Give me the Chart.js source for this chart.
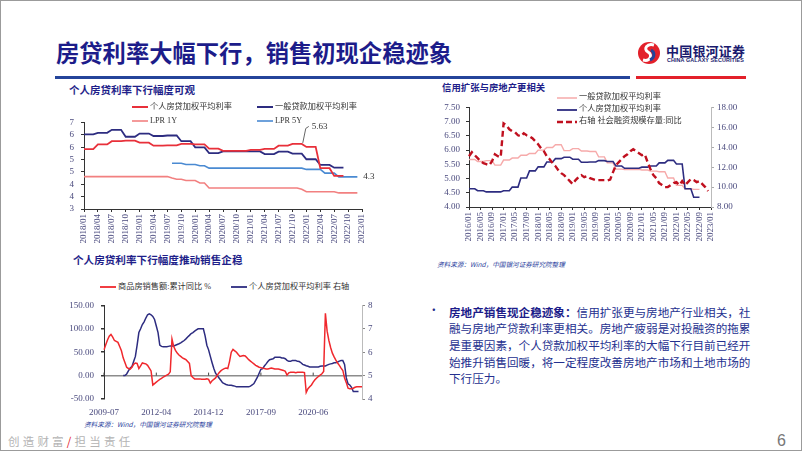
<!DOCTYPE html>
<html>
<head>
<meta charset="utf-8">
<script src="https://cdn.jsdelivr.net/npm/chart.js@4.4.0/dist/chart.umd.min.js"></script>
<style>
  body { margin: 0; background: #fff; }
  #slide { position: relative; width: 802px; height: 451px; overflow: hidden; background: #fff;
           font-family: "Noto Sans CJK SC", sans-serif; }
  #frame { position: absolute; left: 0; top: 0; width: 802px; height: 451px; box-sizing: border-box;
           border: 1px solid #9b9b9b; pointer-events: none; }
  .abs { position: absolute; white-space: nowrap; line-height: 1; }
  canvas { position: absolute; }
  .legend { display: flex; align-items: center; font-family: "Liberation Serif", "Noto Sans CJK SC", serif;
            font-size: 8.2px; color: #333; }
  .legend svg { margin-right: 2px; }
  .ctitle { font-weight: 700; color: #1f1f8a; }
  .src { font-style: italic; color: #2b3f9e; font-size: 6.6px; }
</style>
</head>
<body>
<div id="slide">
  <div class="abs" style="left:56px;top:41px;font-size:23.3px;font-weight:700;color:#1c1c8a;">房贷利率大幅下行，销售初现企稳迹象</div>
  <div class="abs" style="left:55px;top:76px;width:575px;height:3px;background:#24449a;"></div>
  <div class="abs" style="left:636px;top:76px;width:110px;height:3px;background:#e3202a;"></div>

  <svg class="abs" style="left:637px;top:41px;" width="24" height="24" viewBox="0 0 24 24">
    <circle cx="12" cy="12" r="11" fill="#e3202a"/>
    <path d="M17 4 C10 2 6 8 11 11 C16 14 13 21 6 19" stroke="#fff" stroke-width="3" fill="none"/>
    <path d="M14 9 C18 11 18 17 13 19" stroke="#24449a" stroke-width="3" fill="none"/>
  </svg>
  <div class="abs" style="left:666px;top:44px;font-size:13px;font-weight:700;color:#1a1a6e;letter-spacing:0.2px;">中国银河证券</div>
  <div class="abs" style="left:667px;top:58px;font-size:5.4px;font-weight:700;color:#1a1a6e;font-family:'Liberation Sans',sans-serif;letter-spacing:0.1px;">CHINA GALAXY SECURITIES</div>

  <div class="abs ctitle" style="left:69px;top:84.5px;font-size:10.5px;">个人房贷利率下行幅度可观</div>
  <div class="abs ctitle" style="left:442px;top:82.5px;font-size:9.4px;">信用扩张与房地产更相关</div>
  <div class="abs ctitle" style="left:73px;top:254.5px;font-size:10.6px;">个人房贷利率下行幅度推动销售企稳</div>

  <canvas id="c1" width="345" height="142" style="left:40px;top:110px;"></canvas>
  <canvas id="c2" width="340" height="157" style="left:420px;top:96px;"></canvas>
  <canvas id="c3" width="340" height="124" style="left:45px;top:293px;"></canvas>
  <div id="legends"></div>

  <div class="abs src" style="left:437px;top:261px;">资料来源：Wind，中国银河证券研究院整理</div>
  <div class="abs src" style="left:84px;top:421px;">资料来源：Wind，中国银河证券研究院整理</div>

  <div class="abs" style="left:428px;top:304px;font-size:11.6px;color:#1f2a8a;">•</div>
  <div class="abs" style="left:449px;top:303.5px;font-size:11.6px;line-height:16.7px;color:#24308f;">
    <b style="color:#1c1c8a;">房地产销售现企稳迹象：</b>信用扩张更与房地产行业相关，社<br>
    融与房地产贷款利率更相关。房地产疲弱是对投融资的拖累<br>
    是重要因素，个人贷款加权平均利率的大幅下行目前已经开<br>
    始推升销售回暖，将一定程度改善房地产市场和土地市场的<br>
    下行压力。
  </div>

  <div class="abs" style="left:8px;top:436px;font-size:11.5px;color:#b4b4b4;letter-spacing:3.2px;">创造财富<span style="color:#e3202a;">/</span>担当责任</div>
  <div class="abs" style="left:777px;top:433px;font-size:16px;color:#777;font-family:'Liberation Sans',sans-serif;">6</div>
  <div id="frame"></div>
</div>

<script>
// ---------- 图1：个人房贷利率下行幅度可观（月度，2018/01 - 2022/12）----------
// 季度数据（2018Q1 - 2022Q3）
const c1MortgageQ = [5.42, 5.61, 5.74, 5.76, 5.68, 5.56, 5.57, 5.63, 5.61, 5.44,
                     5.35, 5.35, 5.39, 5.43, 5.56, 5.63, 5.51, 4.65, 4.34];
const c1GeneralQ  = [6.02, 6.08, 6.20, 5.92, 6.05, 5.95, 5.97, 5.74, 5.49, 5.26,
                     5.33, 5.33, 5.33, 5.22, 5.32, 5.24, 5.01, 4.78, 4.67];
const c1Lpr1y = [
  4.31, 4.31, 4.31, 4.31, 4.31, 4.31, 4.31, 4.31, 4.31, 4.31, 4.31, 4.31, // 2018
  4.31, 4.31, 4.31, 4.31, 4.31, 4.31, 4.31, 4.25, 4.20, 4.20, 4.15, 4.15, // 2019
  4.15, 4.05, 4.05, 3.85, 3.85, 3.85, 3.85, 3.85, 3.85, 3.85, 3.85, 3.85, // 2020
  3.85, 3.85, 3.85, 3.85, 3.85, 3.85, 3.85, 3.85, 3.85, 3.85, 3.85, 3.80, // 2021
  3.70, 3.70, 3.70, 3.70, 3.70, 3.70, 3.70, 3.65, 3.65, 3.65, 3.65, 3.65  // 2022
];
const c1Lpr5y = [
  null, null, null, null, null, null, null, null, null, null, null, null,
  null, null, null, null, null, null, null, 4.85, 4.85, 4.85, 4.80, 4.80,
  4.80, 4.75, 4.75, 4.65, 4.65, 4.65, 4.65, 4.65, 4.65, 4.65, 4.65, 4.65,
  4.65, 4.65, 4.65, 4.65, 4.65, 4.65, 4.65, 4.65, 4.65, 4.65, 4.65, 4.65,
  4.60, 4.60, 4.60, 4.60, 4.45, 4.45, 4.45, 4.30, 4.30, 4.30, 4.30, 4.30
];

// ---------- 图2：信用扩张与房地产更相关（月度，2016/01 - 2022/12）----------
const c2GeneralQ  = [5.67, 5.60, 5.63, 5.47, 5.65, 5.72, 5.82, 5.88, 6.00, 6.09, 6.19, 5.98,
                     6.05, 5.97, 5.95, 5.76, 5.55, 5.33, 5.32, 5.32, 5.30, 5.26, 5.24, 5.02,
                     4.76, 4.64, 4.62];
const c2MortgageQ = [4.64, 4.57, 4.53, 4.53, 4.57, 4.70, 5.02, 5.27, 5.41, 5.58, 5.70, 5.75,
                     5.68, 5.57, 5.58, 5.63, 5.60, 5.44, 5.36, 5.36, 5.40, 5.44, 5.55, 5.64,
                     5.51, 4.64, 4.34];
const c2Tsf = [
  13.1, 13.5, 13.2, 12.9, 12.6, 12.4, 12.3, 12.2, 12.6, 13.3, 13.1, 13.0, // 2016
  16.4, 16.2, 15.8, 15.6, 15.5, 15.2, 15.1, 15.4, 15.2, 15.1, 14.9, 14.6, // 2017
  14.3, 13.9, 13.6, 13.1, 12.8, 12.4, 12.1, 11.7, 11.4, 11.2, 10.9, 10.6, // 2018
  10.3, 10.7, 11.0, 11.2, 11.0, 11.1, 10.9, 10.8, 10.7, 10.7, 10.7, 10.7, // 2019
  10.65, 10.75, 11.5, 12.2, 12.5, 12.8, 13.1, 13.3, 13.6, 13.8, 13.6, 13.4, // 2020
  13.2, 13.3, 12.5, 11.8, 11.2, 10.9, 10.4, 10.2, 10.0, 10.0, 10.2, 10.4, // 2021
  10.5, 10.2, 10.6, 10.2, 10.5, 10.8, 10.7, 10.5, 10.6, 10.3, 10.0, 9.6   // 2022
];

// ---------- 图3：销售额累计同比 vs 个人房贷利率（无1月，2009-07 - 2022-12）----------
const c3Sales = [
  55, 66, 76, 84, 88, 82,                                  // 2009 Jul-Dec
  75, 73, 71, 62, 53, 38, 28, 18, 15, 14, 18,              // 2010 Feb-Dec
  24, 27, 26, 15, 21, 27, 26, 25, 22, 16, 10,              // 2011
  -20, -17, -14, -11, -8, -6, -3, -1, 1, 3, 8,             // 2012
  78, 62, 54, 48, 44, 41, 38, 36, 34, 30, 26,              // 2013
  0, -4, -7, -7, -7, -7, -8, -8, -8, -7, -8,               // 2014
  -16, -11, -8, -5, 1, 6, 10, 13, 15, 16, 15,              // 2015
  30, 50, 56, 53, 50, 45, 41, 42, 43, 42, 38,              // 2016
  34, 31, 28, 25, 22, 20, 18, 17, 16, 15, 14,              // 2017
  14, 15, 16, 15, 14, 14, 14, 13, 12, 11, 9,               // 2018
  1, 6, 7, 7, 7, 6, 7, 7, 7, 7, 6.5,                       // 2019
  -36, -28, -24, -20, -14, -9, -5, -2, 1, 4, 9,            // 2020
  133, 95, 75, 60, 48, 40, 33, 27, 22, 16, 11,             // 2021
  -5, -15, -27, -28, -28, -27, -25, -24, -24, -24, -24     // 2022
];
const c3Mortgage = [
  null, null, null, null, null, null,
  null, null, null, null, null, 5.00, 5.00, 5.07, 5.20, 5.32, 5.38,
  5.60, 5.82, 6.30, 6.84, 7.00, 7.18, 7.30, 7.46, 7.60, 7.64, 7.60,
  7.53, 7.40, 7.12, 6.84, 6.30, 6.25, 6.23, 6.23, 6.23, 6.25, 6.27,
  6.27, 6.27, 6.30, 6.33, 6.36, 6.40, 6.45, 6.50, 6.57, 6.65, 6.72,
  6.80, 6.84, 6.90, 6.95, 7.00, 7.00, 7.00, 7.00, 6.70, 6.30, 6.10,
  5.82, 5.55, 5.30, 5.10, 5.00, 4.90, 4.80, 4.70, 4.66, 4.62, 4.60,
  4.59, 4.59, 4.57, 4.55, 4.52, 4.52, 4.52, 4.52, 4.52, 4.52, 4.52,
  4.52, 4.55, 4.60, 4.66, 4.80, 4.93, 5.10, 5.27, 5.30, 5.41, 5.50,
  5.60, 5.68, 5.70, 5.72, 5.78, 5.78, 5.78, 5.78, 5.75, 5.75, 5.72,
  5.65, 5.61, 5.61, 5.64, 5.64, 5.64, 5.61, 5.60, 5.55, 5.48, 5.45,
  5.42, 5.40, 5.37, 5.37, 5.37, 5.37, 5.37, 5.37, 5.40, 5.41, 5.41,
  5.41, 5.45, 5.48, 5.50, 5.52, 5.55, 5.55, 5.58, 5.62, 5.64, 5.64,
  5.48, 4.90, 4.64, 4.60, 4.50, 4.32, 4.32, 4.32, 4.32, null, null
];

// 季度值在当季三个月内保持不变
function perMonth(q) {
  const out = [];
  q.forEach(v => out.push(v, v, v));
  return out;
}

function monthLabels(y0, y1, lastMonth) {
  const arr = [];
  for (let y = y0; y <= y1; y++) {
    for (let m = 1; m <= 12; m++) {
      if (y === y1 && m > lastMonth) break;
      arr.push(y + '/' + String(m).padStart(2, '0'));
    }
  }
  return arr;
}

const c1Labels = monthLabels(2018, 2023, 1);
const c2Labels = monthLabels(2016, 2023, 1);
const c3Labels = [];
for (let y = 2009; y <= 2022; y++) {
  for (let m = (y === 2009 ? 7 : 2); m <= 12; m++) c3Labels.push(y + '-' + String(m).padStart(2, '0'));
}

// 颜色
const RED = '#e8303a', NAVY = '#2d2c80', SALMON = '#f28080', SKY = '#4a8ad2';
const PINK = '#f6aaaa', DRED = '#c0101f';
const TICK = '#4a4a7e';

Chart.defaults.animation = false;
Chart.defaults.font.family = '"Liberation Serif", serif';
Chart.defaults.font.size = 9;
Chart.defaults.color = TICK;

const noLegend = { legend: { display: false }, tooltip: { enabled: false } };

function xCat(every, height, rotate) {
  return {
    type: 'category',
    offset: false,
    afterBuildTicks: s => { s.ticks = s.ticks.filter(t => t.value % every === 0); },
    afterFit: s => { s.height = height; },
    ticks: { autoSkip: false, minRotation: rotate, maxRotation: rotate, padding: rotate ? 2 : 5 },
    grid: { display: !!rotate, drawOnChartArea: false, tickLength: 3, tickColor: '#333' },
    border: { display: !!rotate, color: '#333' }
  };
}

// ---------- 图1 ----------
const c1Notes = {
  id: 'c1Notes',
  afterDatasetsDraw(chart) {
    const ctx = chart.ctx;
    const peakIdx = 47; // 2021/12
    const peak = chart.getDatasetMeta(0).data[peakIdx];
    const last = chart.getDatasetMeta(3).data[c1Lpr5y.length - 1];
    ctx.save();
    ctx.strokeStyle = '#666';
    ctx.lineWidth = 1;
    ctx.beginPath();
    ctx.moveTo(peak.x + 1, peak.y - 1);
    ctx.lineTo(peak.x + 4, peak.y - 15.5);
    ctx.lineTo(peak.x + 7, peak.y - 17.5);
    ctx.stroke();
    ctx.fillStyle = '#333';
    ctx.font = '9px "Liberation Serif"';
    ctx.textBaseline = 'middle';
    ctx.fillText(perMonth(c1MortgageQ)[peakIdx].toFixed(2), peak.x + 10, peak.y - 17.5);
    ctx.fillText(String(c1Lpr5y[c1Lpr5y.length - 1]), last.x + 6, last.y);
    ctx.restore();
  }
};

new Chart(document.getElementById('c1'), {
  type: 'line',
  data: {
    labels: c1Labels,
    datasets: [
      { label: '个人房贷加权平均利率', data: perMonth(c1MortgageQ), borderColor: RED, borderWidth: 1.8 },
      { label: '一般贷款加权平均利率', data: perMonth(c1GeneralQ), borderColor: NAVY, borderWidth: 1.8 },
      { label: 'LPR 1Y', data: c1Lpr1y, borderColor: SALMON, borderWidth: 1.6 },
      { label: 'LPR 5Y', data: c1Lpr5y, borderColor: SKY, borderWidth: 1.6 }
    ]
  },
  options: {
    responsive: false,
    devicePixelRatio: 1,
    layout: { padding: { top: 9, right: 23 } },
    elements: { point: { radius: 0 }, line: { tension: 0 } },
    plugins: noLegend,
    scales: {
      x: xCat(3, 43, 90),
      y: {
        min: 3, max: 6.5,
        afterFit: s => { s.width = 44; },
        ticks: { stepSize: 0.5, padding: 7, autoSkip: false, callback: v => Math.round(v) },
        grid: { drawOnChartArea: false, tickLength: 3, tickColor: '#333' },
        border: { color: '#333' }
      }
    }
  },
  plugins: [c1Notes]
});

// ---------- 图2 ----------
new Chart(document.getElementById('c2'), {
  type: 'line',
  data: {
    labels: c2Labels,
    datasets: [
      { label: '右轴 社会融资规模存量:同比', data: c2Tsf, yAxisID: 'y1', borderColor: DRED,
        borderWidth: 2.4, borderDash: [6, 3.5] },
      { label: '个人房贷加权平均利率', data: perMonth(c2MortgageQ), borderColor: NAVY, borderWidth: 1.6 },
      { label: '一般贷款加权平均利率', data: perMonth(c2GeneralQ), borderColor: PINK, borderWidth: 1.4 }
    ]
  },
  options: {
    responsive: false,
    devicePixelRatio: 1,
    layout: { padding: { top: 7 } },
    elements: { point: { radius: 0 }, line: { tension: 0 } },
    plugins: noLegend,
    scales: {
      x: xCat(4, 46, 90),
      y: {
        min: 4, max: 7.5,
        afterFit: s => { s.width = 49; },
        ticks: { stepSize: 0.5, padding: 6, autoSkip: false, callback: v => v.toFixed(2) },
        grid: { drawOnChartArea: false, tickLength: 3, tickColor: '#333' },
        border: { color: '#333' }
      },
      y1: {
        position: 'right',
        min: 8, max: 18,
        afterFit: s => { s.width = 49; },
        ticks: { stepSize: 2, padding: 3, autoSkip: false, callback: v => v.toFixed(2) },
        grid: { drawOnChartArea: false, tickLength: 3, tickColor: '#aaa' },
        border: { color: '#bbb' }
      }
    }
  }
});

// ---------- 图3 ----------
const zeroTicks = {
  id: 'zeroTicks',
  afterDatasetsDraw(chart) {
    const { ctx, scales: { x, y } } = chart;
    const y0 = y.getPixelForValue(0);
    ctx.save();
    ctx.strokeStyle = '#444';
    ctx.lineWidth = 1;
    x.ticks.forEach((t, i) => {
      const px = x.getPixelForTick(i);
      ctx.beginPath();
      ctx.moveTo(px, y0);
      ctx.lineTo(px, y0 - 3);
      ctx.stroke();
    });
    ctx.restore();
  }
};

new Chart(document.getElementById('c3'), {
  type: 'line',
  data: {
    labels: c3Labels,
    datasets: [
      { label: '商品房销售额:累计同比 %', data: c3Sales, borderColor: '#f0282d', borderWidth: 1.5 },
      { label: '个人房贷加权平均利率 右轴', data: c3Mortgage, yAxisID: 'y1', borderColor: NAVY, borderWidth: 1.5 }
    ]
  },
  options: {
    responsive: false,
    devicePixelRatio: 1,
    layout: { padding: { top: 9 } },
    elements: { point: { radius: 0 }, line: { tension: 0 } },
    plugins: noLegend,
    scales: {
      x: xCat(30, 18, 0),
      y: {
        min: -50, max: 150,
        afterFit: s => { s.width = 59; },
        ticks: { stepSize: 50, padding: 7, autoSkip: false, callback: v => v.toFixed(2) },
        grid: {
          drawOnChartArea: true, tickLength: 3, tickColor: '#333', lineWidth: 1.5,
          color: c => (c.tick && c.tick.value === 0 ? '#8c8c8c' : 'rgba(0,0,0,0)')
        },
        border: { color: '#333' }
      },
      y1: {
        position: 'right',
        min: 4, max: 8,
        afterFit: s => { s.width = 23; },
        ticks: { stepSize: 1, padding: 3, autoSkip: false },
        grid: { drawOnChartArea: false, tickLength: 3, tickColor: '#888' },
        border: { color: '#bbb' }
      }
    }
  },
  plugins: [zeroTicks]
});

// ---------- 图例（HTML）----------
const legendItems = [
  { x: 132, y: 107, label: '个人房贷加权平均利率', color: RED, w: 2, len: 16 },
  { x: 257, y: 107, label: '一般贷款加权平均利率', color: NAVY, w: 2, len: 16 },
  { x: 132, y: 121, label: 'LPR 1Y', color: SALMON, w: 1.6, len: 16 },
  { x: 257, y: 121, label: 'LPR 5Y', color: SKY, w: 1.6, len: 16 },
  { x: 557, y: 97.5, label: '一般贷款加权平均利率', color: PINK, w: 1.5, len: 20 },
  { x: 557, y: 109.5, label: '个人房贷加权平均利率', color: NAVY, w: 1.8, len: 20 },
  { x: 557, y: 121.5, label: '右轴 社会融资规模存量:同比', color: DRED, w: 2.5, len: 20, dash: '6,3' },
  { x: 100, y: 286.7, label: '商品房销售额:累计同比 %', color: '#f0282d', w: 1.8, len: 16 },
  { x: 231, y: 286.7, label: '个人房贷加权平均利率 右轴', color: NAVY, w: 1.8, len: 16 }
];
const legendBox = document.getElementById('legends');
legendItems.forEach(it => {
  const el = document.createElement('div');
  el.className = 'abs legend';
  el.style.left = it.x + 'px';
  el.style.top = (it.y - 5) + 'px';
  el.style.height = '10px';
  el.innerHTML = '<svg width="' + it.len + '" height="6"><line x1="0" y1="3" x2="' + it.len + '" y2="3" stroke="' +
    it.color + '" stroke-width="' + it.w + '"' + (it.dash ? ' stroke-dasharray="' + it.dash + '"' : '') +
    '/></svg><span>' + it.label + '</span>';
  legendBox.appendChild(el);
});
</script>
</body>
</html>
